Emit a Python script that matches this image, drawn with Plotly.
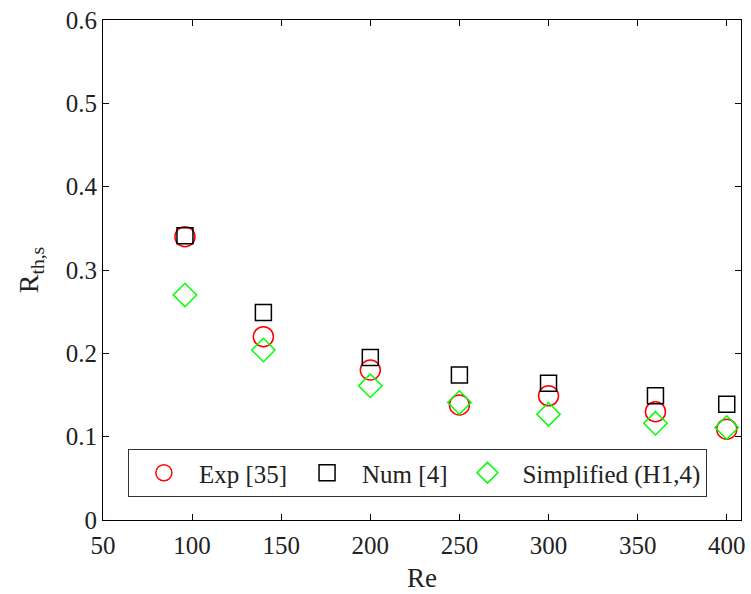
import plotly.graph_objects as go

re_vals = [96, 140, 200, 250, 300, 360, 400]
exp_vals = [0.340, 0.220, 0.180, 0.138, 0.149, 0.130, 0.109]
num_vals = [0.341, 0.249, 0.195, 0.174, 0.164, 0.149, 0.139]
simp_vals = [0.270, 0.204, 0.161, 0.141, 0.127, 0.116, 0.111]

x_ticks = [50, 100, 150, 200, 250, 300, 350, 400]
y_ticks = [0, 0.1, 0.2, 0.3, 0.4, 0.5, 0.6]
y_tick_text = ["0", "0.1", "0.2", "0.3", "0.4", "0.5", "0.6"]

FONT = "Liberation Serif"

fig = go.Figure()
fig.add_trace(go.Scatter(x=re_vals, y=exp_vals, mode="markers", name="Exp [35]",
                         marker=dict(symbol="circle-open", size=20, color="#FF0000",
                                     line=dict(width=1.5, color="#FF0000"))))
fig.add_trace(go.Scatter(x=re_vals, y=num_vals, mode="markers", name="Num [4]",
                         marker=dict(symbol="square-open", size=16, color="#000000",
                                     line=dict(width=1.5, color="#000000"))))
fig.add_trace(go.Scatter(x=re_vals, y=simp_vals, mode="markers", name="Simplified (H1,4)",
                         marker=dict(symbol="diamond-open", size=18, color="#00FF00",
                                     line=dict(width=1.5, color="#00FF00"))))

axis_common = dict(showline=True, linecolor="black", linewidth=1, mirror="ticks",
                   ticks="inside", ticklen=6, tickcolor="black", tickwidth=1,
                   showgrid=False, zeroline=False,
                   tickfont=dict(family=FONT, size=25, color="#222"))

fig.update_xaxes(range=[50, 408], tickvals=x_ticks, ticklabelstandoff=3,
                 title=dict(text="Re", font=dict(family=FONT, size=27, color="#222"), standoff=10),
                 **axis_common)
fig.update_yaxes(range=[0, 0.6], tickvals=y_ticks, ticktext=y_tick_text,
                 title=dict(text="R<sub>th,s</sub>", font=dict(family=FONT, size=28, color="#222"), standoff=18),
                 **axis_common)

fig.update_layout(
    width=751, height=594,
    margin=dict(l=103, r=6, t=20, b=74),
    paper_bgcolor="white", plot_bgcolor="white",
    font=dict(family=FONT, color="#222"),
    showlegend=True,
    legend=dict(orientation="h", x=0.039, xanchor="left", y=0.142, yanchor="top",
                bgcolor="white", bordercolor="#333", borderwidth=1,
                font=dict(family=FONT, size=25, color="#222"),
                itemwidth=60, tracegroupgap=0),
)

fig.write_html("out.html")
